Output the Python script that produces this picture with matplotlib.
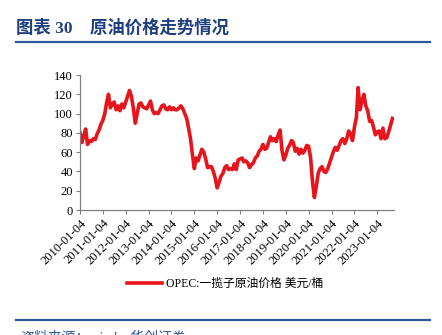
# -*- coding: utf-8 -*-
import pandas as pd
import matplotlib.pyplot as plt
from matplotlib.lines import Line2D

plt.rcParams['font.family'] = ['Liberation Serif', 'Noto Sans CJK SC']

# OPEC basket price, monthly, USD/barrel
months = pd.date_range("2010-01-01", periods=165, freq="MS") + pd.Timedelta(days=3)
prices = [
    # 2010
    80, 70, 77, 84, 68, 72, 71, 74, 73, 79, 83, 89,
    # 2011
    93, 100, 111, 120, 106, 110, 112, 104, 108, 103, 110, 106,
    # 2012
    112, 118, 124, 118, 106, 90, 100, 110, 111, 107, 106, 105,
    # 2013
    109, 113, 104, 100, 101, 100, 104, 108, 109, 105, 104, 107,
    # 2014
    104, 106, 104, 104, 106, 108, 105, 100, 95, 85, 74, 58,
    # 2015
    43, 54, 51, 57, 63, 60, 53, 44, 45, 45, 40, 33,
    # 2016
    23, 29, 35, 38, 44, 46, 42, 43, 42, 48, 42, 52,
    # 2017
    53, 54, 50, 51, 49, 44, 47, 49, 54, 56, 61, 63,
    # 2018
    68, 63, 64, 70, 76, 72, 74, 71, 78, 83, 62, 52,
    # 2019
    57, 64, 67, 72, 70, 61, 64, 58, 63, 59, 62, 67,
    # 2020
    66, 54, 30, 13, 24, 38, 43, 45, 40, 39, 43, 49,
    # 2021
    55, 61, 65, 62, 67, 72, 74, 69, 74, 82, 79, 72,
    # 2022
    86, 96, 127, 104, 113, 120, 108, 103, 92, 93, 86, 78,
    # 2023
    81, 82, 74, 85, 74, 75, 81, 88, 95,
]
tick_dates = pd.date_range("2010-01-01", periods=14, freq="12MS") + pd.Timedelta(days=3)
tick_labels = [d.strftime("%Y-%m-%d") for d in tick_dates]
y_ticks = [0, 20, 40, 60, 80, 100, 120, 140]

title_blue = '#1f3f7f'
rule_blue = '#2f5597'
line_red = '#e8141c'

fig = plt.figure(figsize=(4.42, 3.35), dpi=100)
ax = fig.add_axes([0.181, 0.373, 0.710, 0.403])
ax.plot(months, prices, color=line_red, linewidth=2.6)

ax.set_ylim(0, 140)
ax.set_yticks(y_ticks)
ax.set_xlim(pd.Timestamp("2010-01-04"), pd.Timestamp("2023-09-25"))
ax.set_xticks(tick_dates)
ax.set_xticklabels(tick_labels, rotation=45, ha='right', rotation_mode='anchor')
ax.tick_params(axis='both', labelsize=9, color='#808080', length=3, width=0.8, pad=2)
for side in ['top', 'right']:
    ax.spines[side].set_visible(False)
for side in ['left', 'bottom']:
    ax.spines[side].set_color('#808080')
    ax.spines[side].set_linewidth(0.9)

# legend below the chart
handle = Line2D([], [], color=line_red, linewidth=2.6)
fig.legend([handle], ['OPEC:一揽子原油价格 美元/桶'], loc='center',
           bbox_to_anchor=(225 / 442, 1 - 284 / 335), frameon=False,
           fontsize=8.5, handlelength=3.0, handletextpad=0.3)

# title and rules
fig.text(16 / 442, 1 - 28 / 335, '图表 30    原油价格走势情况', color=title_blue,
         fontsize=12.5, fontweight='bold', va='center', ha='left')
fig.add_artist(Line2D([16 / 442, 430 / 442], [1 - 42 / 335, 1 - 42 / 335],
                      color=rule_blue, linewidth=1.6))
fig.add_artist(Line2D([16 / 442, 430 / 442], [1 - 320 / 335, 1 - 320 / 335],
                      color=rule_blue, linewidth=1.6))
fig.text(20 / 442, 1 - 330 / 335, '资料来源：wind，华创证券', color=rule_blue,
         fontsize=10, style='italic', va='top', ha='left')

plt.savefig("out.png", dpi=100)
